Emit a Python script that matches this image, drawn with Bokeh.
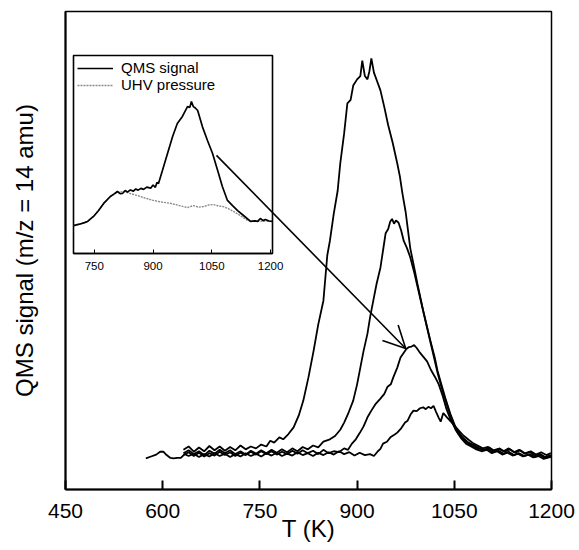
from bokeh.plotting import figure
from bokeh.layouts import column
from bokeh.models import Arrow, OpenHead, FixedTicker, Range1d, Legend, LegendItem
from bokeh.embed import file_html
from bokeh.resources import INLINE

FONT = "Liberation Sans"

# ---------------- data (main panel) ----------------
x_ticks = [450, 600, 750, 900, 1050, 1200]

a_T = [632, 640, 648, 656, 664, 672, 680, 688, 696, 704, 712, 720, 728, 736, 744, 752, 760, 766, 772, 780,
       786, 794, 802, 810, 817, 825, 833, 840, 848, 854, 858, 864, 870, 874, 880, 885, 890, 894, 900, 905,
       908, 912, 916, 919, 922, 926, 932, 936, 942, 948, 955, 962, 966, 970, 975, 978, 982, 988, 993, 1002,
       1008, 1013, 1020, 1024, 1030, 1036, 1044, 1052, 1062, 1070, 1078, 1086, 1094, 1102, 1110, 1118, 1126,
       1134, 1142, 1150, 1158, 1166, 1174, 1182, 1190, 1199]
a_S = [8.3, 9.0, 7.9, 8.8, 8.0, 9.1, 8.2, 9.0, 8.1, 8.9, 8.2, 9.2, 8.4, 9.0, 8.6, 9.4, 9.0, 10.2, 9.8, 10.9,
       10.5, 11.6, 13.0, 15.5, 18.6, 23.5, 29.1, 34.5, 39.5, 49.0, 52.0, 57.7, 62.5, 68.2, 74.5, 80.8, 81.5, 84.5, 85.8, 86.5,
       89.7, 86.5, 85.8, 87.5, 90.2, 87.2, 85.0, 83.5, 80.0, 76.2, 72.5, 68.2, 65.5, 61.9, 58.0, 54.8, 50.5, 46.5, 43.1, 37.4,
       34.0, 31.2, 27.5, 24.9, 22.0, 19.2, 15.8, 13.0, 11.0, 10.0, 9.4, 8.9, 8.2, 8.5, 7.8, 8.1, 7.5,
       7.9, 7.2, 7.6, 7.0, 7.4, 6.8, 7.2, 6.6, 7.0]

b_T = [632, 640, 648, 656, 664, 672, 680, 688, 696, 704, 712, 720, 728, 736, 744, 752, 760, 768, 776, 784,
       792, 800, 808, 816, 824, 832, 840, 848, 858, 866, 874, 880, 886, 894, 900, 905, 910, 916, 920, 925,
       930, 936, 940, 944, 948, 951, 954, 957, 960, 964, 968, 972, 977, 982, 988, 994, 1000, 1006, 1012, 1018,
       1024, 1030, 1036, 1044, 1052, 1060, 1068, 1076, 1084, 1092, 1100, 1108, 1116, 1124, 1132, 1140, 1148,
       1156, 1164, 1172, 1180, 1188, 1199]
b_S = [7.6, 8.2, 7.4, 8.0, 7.2, 8.1, 7.5, 8.3, 7.6, 8.2, 7.4, 8.0, 7.3, 8.1, 7.5, 8.2, 7.6, 8.3, 7.7, 8.4,
       7.8, 8.6, 8.0, 8.9, 8.4, 9.2, 8.8, 10.0, 10.5, 11.2, 12.5, 14.0, 15.8, 18.6, 22.0, 25.5, 29.0, 32.6, 36.0, 39.5,
       43.0, 46.4, 50.0, 53.6, 54.5, 56.0, 56.6, 55.6, 56.3, 55.8, 54.2, 52.0, 50.5, 48.6, 45.5, 42.0, 38.5, 35.0, 31.5, 28.0,
       24.5, 21.5, 18.8, 15.5, 12.5, 10.8, 9.6, 9.0, 8.4, 8.0, 8.3, 7.6, 8.0, 7.3, 7.7, 7.1, 7.5,
       6.9, 7.3, 6.7, 7.0, 6.4, 6.8]

c_T = [632, 640, 648, 656, 664, 672, 680, 688, 696, 704, 712, 720, 728, 736, 744, 752, 760, 768, 776, 784,
       792, 800, 808, 816, 824, 832, 840, 848, 856, 864, 872, 880, 886, 892, 898, 904, 910, 916, 922, 928,
       936, 942, 947, 952, 956, 962, 967, 972, 976, 980, 984, 988, 992, 996, 1002, 1008, 1014, 1020, 1026, 1032,
       1038, 1044, 1050, 1056, 1064, 1072, 1080, 1088, 1096, 1104, 1112, 1120, 1128, 1136, 1144, 1152, 1160,
       1168, 1176, 1184, 1192, 1199]
c_S = [7.2, 7.8, 7.0, 7.7, 6.9, 7.6, 7.1, 7.9, 7.2, 7.8, 7.0, 7.7, 7.2, 7.9, 7.3, 8.0, 7.4, 8.0, 7.3, 7.9,
       7.4, 8.1, 7.5, 8.2, 7.6, 8.1, 7.4, 8.3, 7.6, 8.0, 7.8, 8.6, 8.3, 9.6, 10.5, 11.8, 13.2, 15.1, 16.5, 17.8,
       19.0, 20.0, 21.5, 22.0, 23.5, 25.5, 27.6, 28.6, 29.4, 29.8, 29.9, 30.2, 29.6, 28.8, 27.8, 26.8, 25.0, 23.6, 22.0, 19.6,
       16.8, 14.7, 13.1, 11.7, 10.5, 9.6, 8.9, 8.5, 8.3, 8.8, 8.0, 8.6, 7.9, 8.4, 7.7, 8.2, 7.5,
       8.0, 7.3, 7.8, 7.2, 7.6]

d_T = [574, 582, 590, 596, 601, 606, 612, 617, 622, 628, 634, 640, 648, 656, 664, 672, 680, 688, 696, 704,
       712, 720, 728, 736, 744, 752, 760, 768, 776, 784, 792, 800, 808, 816, 824, 832, 840, 848, 856, 864,
       872, 880, 888, 896, 904, 912, 920, 926, 932, 936, 940, 946, 952, 958, 962, 968, 974, 978, 983, 987,
       992, 997, 1002, 1006, 1010, 1014, 1018, 1022, 1026, 1029, 1033, 1038, 1044, 1049, 1056, 1064, 1072,
       1080, 1086, 1094, 1102, 1110, 1118, 1126, 1134, 1142, 1150, 1158, 1166, 1174, 1182, 1190, 1199]
d_S = [6.5, 6.9, 7.3, 7.9, 7.9, 7.2, 6.6, 6.5, 6.6, 6.6, 7.4, 7.0, 7.5, 6.8, 7.4, 6.9, 7.6, 7.0, 7.5, 6.8,
       7.4, 6.9, 7.6, 7.0, 7.5, 6.9, 7.6, 7.1, 7.7, 7.0, 7.5, 7.1, 7.8, 7.2, 7.6, 7.0, 7.7, 7.2, 7.8, 7.3,
       8.0, 7.4, 7.8, 7.1, 7.7, 7.2, 7.4, 7.0, 8.0, 8.5, 9.6, 10.0, 11.0, 11.5, 11.9, 12.8, 14.0, 14.4, 15.8, 16.5,
       16.4, 17.0, 17.2, 16.8, 17.3, 17.0, 17.5, 16.2, 15.0, 14.2, 16.0, 15.2, 14.3, 13.6, 12.5, 11.3, 10.4,
       9.6, 9.2, 8.6, 8.9, 8.2, 8.5, 8.0, 8.6, 7.8, 8.3, 7.5, 7.9, 7.1, 7.5, 6.8, 7.2]

# arrow (from inset region to the third curve's peak), data coordinates
arrow_start = (683, 69.9)
arrow_end = (975, 29.5)

# ---------------- data (inset) ----------------
inset_ticks = [750, 900, 1050, 1200]
qms_T = [697, 712, 725, 733, 748, 761, 774, 791, 800, 809, 816, 822, 829, 835, 842, 850, 856, 862, 869, 876,
         884, 894, 900, 906, 910, 914, 924, 937, 950, 962, 975, 988, 994, 998, 1003, 1008, 1014, 1026, 1039, 1052,
         1065, 1077, 1090, 1103, 1116, 1131, 1149, 1160, 1167, 1174, 1181, 1187, 1196, 1205]
qms_S = [14.1, 14.8, 15.6, 16.2, 18.7, 21.7, 25.3, 28.8, 30.0, 31.3, 30.2, 30.3, 31.8, 31.0, 32.1, 31.5, 32.6, 32.0, 32.9, 32.4,
         33.5, 33.0, 34.6, 33.4, 35.9, 35.4, 41.9, 50.5, 59.1, 65.7, 69.2, 74.2, 73.8, 76.8, 74.2, 73.5, 72.2, 64.1, 57.1, 50.5,
         41.9, 33.8, 26.8, 24.2, 21.7, 19.2, 16.2, 16.5, 16.2, 17.7, 16.6, 17.2, 16.4, 16.2]
uhv_T = [697, 712, 725, 733, 748, 761, 774, 791, 809, 825, 842, 860, 880, 901, 922, 945, 965, 988, 1003, 1016,
         1029, 1042, 1054, 1067, 1080, 1093, 1106, 1124, 1141, 1155, 1167, 1185, 1205]
uhv_S = [14.1, 14.8, 15.6, 16.2, 18.7, 21.7, 25.3, 28.8, 31.0, 31.3, 30.3, 29.3, 28.0, 26.8, 26.0, 25.3, 24.3, 23.2, 24.2, 23.4,
         23.7, 24.5, 24.7, 24.0, 23.7, 22.6, 21.2, 19.0, 16.7, 16.2, 16.2, 16.4, 16.2]

# ---------------- main figure ----------------
p = figure(width=579, height=550, x_range=Range1d(450, 1200), y_range=Range1d(0, 100),
           output_backend="svg", toolbar_location=None,
           min_border_left=65, min_border_right=28, min_border_top=11, min_border_bottom=61)
p.grid.visible = False
p.outline_line_color = "black"
p.outline_line_width = 1.5
p.background_fill_color = "white"

p.xaxis.ticker = FixedTicker(ticks=x_ticks)
p.xaxis.major_tick_in = 9
p.xaxis.major_tick_out = 0
p.xaxis.minor_tick_line_color = None
p.xaxis.major_tick_line_width = 2
p.xaxis.axis_line_width = 2
p.xaxis.major_label_text_font = FONT
p.xaxis.major_label_text_font_size = "21px"
p.xaxis.major_label_text_color = "black"
p.xaxis.major_label_standoff = 14
p.xaxis.axis_label = "T (K)"
p.xaxis.axis_label_text_font = FONT
p.xaxis.axis_label_text_font_size = "24px"
p.xaxis.axis_label_text_font_style = "normal"
p.xaxis.axis_label_text_color = "black"
p.xaxis.axis_label_standoff = -6

p.yaxis.ticker = FixedTicker(ticks=[])
p.yaxis.major_tick_line_color = None
p.yaxis.minor_tick_line_color = None
p.yaxis.axis_line_width = 2
p.yaxis.axis_label = "QMS signal (m/z = 14 amu)"
p.yaxis.axis_label_text_font = FONT
p.yaxis.axis_label_text_font_size = "24px"
p.yaxis.axis_label_text_font_style = "normal"
p.yaxis.axis_label_text_color = "black"
p.yaxis.axis_label_standoff = 28

for T, S in [(a_T, a_S), (b_T, b_S), (c_T, c_S), (d_T, d_S)]:
    p.line(T, S, line_color="black", line_width=1.8)

p.add_layout(Arrow(x_start=arrow_start[0], y_start=arrow_start[1], x_end=arrow_end[0], y_end=arrow_end[1],
                   line_color="black", line_width=1.6,
                   end=OpenHead(size=22, line_color="black", line_width=1.6)))

# ---------------- inset figure ----------------
# column layouts align frame edges, so the inset's side borders follow the main figure (65 / 28)
q = figure(frame_width=199, frame_height=198, x_range=Range1d(697, 1205), y_range=Range1d(0, 100),
           output_backend="svg", toolbar_location=None, y_axis_location=None,
           min_border_left=65, min_border_right=28, min_border_top=10, min_border_bottom=30)
q.grid.visible = False
q.background_fill_alpha = 0
q.border_fill_alpha = 0
q.outline_line_color = "black"
q.outline_line_width = 1.6
q.xaxis.ticker = FixedTicker(ticks=inset_ticks)
q.xaxis.major_tick_in = 4
q.xaxis.major_tick_out = 0
q.xaxis.minor_tick_line_color = None
q.xaxis.axis_line_width = 1.6
q.xaxis.major_label_text_font = FONT
q.xaxis.major_label_text_font_size = "11.5px"
q.xaxis.major_label_text_color = "black"
q.xaxis.major_label_standoff = 8

r_uhv = q.line(uhv_T, uhv_S, line_color="#8a8a8a", line_width=1.4, line_dash="2 1")
r_qms = q.line(qms_T, qms_S, line_color="black", line_width=1.7)

leg = Legend(items=[LegendItem(label="QMS signal", renderers=[r_qms]),
                    LegendItem(label="UHV pressure", renderers=[r_uhv])],
             location="top_left", border_line_alpha=0, background_fill_alpha=0,
             label_text_font=FONT, label_text_font_size="15px", label_text_color="black",
             glyph_width=36, glyph_height=14, label_standoff=8, spacing=0, padding=2, margin=2,
             label_height=17)
q.add_layout(leg)

q.margin = (-505, 0, 267, 8)

layout = column(p, q, spacing=0)
open("out.html", "w").write(file_html(layout, INLINE))
